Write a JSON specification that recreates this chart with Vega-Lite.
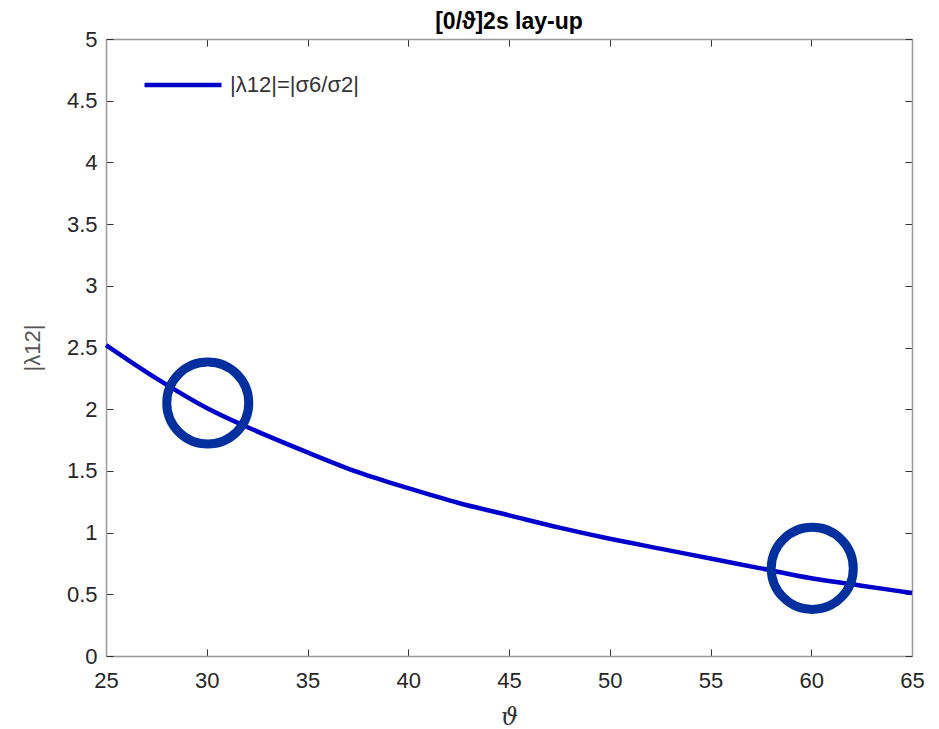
{
  "$schema": "https://vega.github.io/schema/vega-lite/v6.json",
  "width": 806,
  "height": 617,
  "autosize": "none",
  "padding": {"left": 106, "top": 39, "right": 27, "bottom": 73},
  "background": "white",
  "config": {
    "view": {"stroke": null},
    "font": "Liberation Sans",
    "axis": {
      "grid": false,
      "domainColor": "#999999",
      "domainWidth": 1.5,
      "tickColor": "#333333",
      "tickSize": -7,
      "tickWidth": 1,
      "labelFont": "Liberation Sans",
      "labelFontSize": 22,
      "labelColor": "#262626",
      "labelFlush": false,
      "titleFontWeight": "normal"
    }
  },
  "title": {
    "text": "[0/ϑ]2s lay-up",
    "fontSize": 23,
    "fontWeight": "bold",
    "color": "#000000",
    "font": "Liberation Sans",
    "anchor": "middle",
    "offset": -6
  },
  "datasets": {
    "curve": [
      {"theta": 25, "lambda": 2.52},
      {"theta": 27.5, "lambda": 2.25},
      {"theta": 30, "lambda": 2.01},
      {"theta": 32.5, "lambda": 1.82},
      {"theta": 35, "lambda": 1.65},
      {"theta": 37.5, "lambda": 1.49},
      {"theta": 40, "lambda": 1.36},
      {"theta": 42.5, "lambda": 1.24},
      {"theta": 45, "lambda": 1.14},
      {"theta": 47.5, "lambda": 1.04},
      {"theta": 50, "lambda": 0.95},
      {"theta": 52.5, "lambda": 0.87},
      {"theta": 55, "lambda": 0.79},
      {"theta": 57.5, "lambda": 0.71},
      {"theta": 60, "lambda": 0.63},
      {"theta": 62.5, "lambda": 0.57},
      {"theta": 65, "lambda": 0.51}
    ],
    "marks": [
      {"theta": 30.05, "lambda": 2.05},
      {"theta": 60.05, "lambda": 0.71}
    ]
  },
  "layer": [
    {
      "data": {"name": "curve"},
      "mark": {"type": "line", "strokeWidth": 4.5, "interpolate": "monotone"},
      "encoding": {
        "x": {
          "field": "theta", "type": "quantitative",
          "scale": {"domain": [25, 65], "nice": false, "zero": false},
          "axis": {
            "orient": "bottom", "values": [25, 30, 35, 40, 45, 50, 55, 60, 65],
            "labelPadding": 21,
            "title": "ϑ", "titleFont": "DejaVu Serif", "titleFontStyle": "italic",
            "titleFontSize": 24, "titleColor": "#333333", "titlePadding": 14
          }
        },
        "y": {
          "field": "lambda", "type": "quantitative",
          "scale": {"domain": [0, 5], "nice": false},
          "axis": {
            "orient": "left", "values": [0, 0.5, 1, 1.5, 2, 2.5, 3, 3.5, 4, 4.5, 5],
            "format": "~g",
            "labelPadding": 16,
            "title": "|λ12|", "titleFontSize": 22, "titleColor": "#555555",
            "titlePadding": 22
          }
        },
        "color": {
          "datum": "|λ12|=|σ6/σ2|",
          "type": "nominal",
          "scale": {"range": ["#0000CC"]},
          "legend": {
            "title": null,
            "orient": "none",
            "legendX": 36,
            "legendY": 5,
            "padding": 0,
            "symbolType": "stroke",
            "symbolSize": 5929,
            "symbolStrokeWidth": 4.5,
            "labelFontSize": 22,
            "labelColor": "#333333",
            "labelFont": "Liberation Sans",
            "labelOffset": 6
          }
        }
      }
    },
    {
      "data": {"name": "marks"},
      "mark": {"type": "point", "shape": "circle", "filled": false, "size": 6724, "strokeWidth": 9, "color": "#00309E", "opacity": 1},
      "encoding": {
        "x": {
          "field": "theta", "type": "quantitative",
          "axis": {"orient": "top", "values": [25, 30, 35, 40, 45, 50, 55, 60, 65], "labels": false, "title": null}
        },
        "y": {
          "field": "lambda", "type": "quantitative",
          "axis": {"orient": "right", "values": [0, 0.5, 1, 1.5, 2, 2.5, 3, 3.5, 4, 4.5, 5], "labels": false, "title": null}
        }
      }
    }
  ]
}
